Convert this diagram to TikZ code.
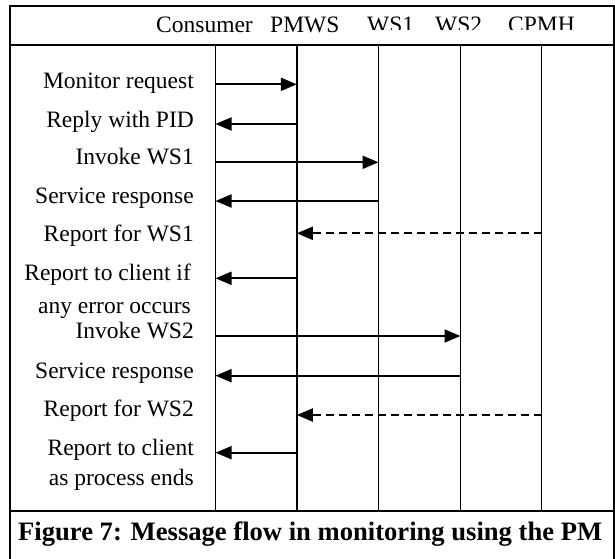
\documentclass[tikz,border=0pt]{standalone}
\usepackage{fontspec}
\setmainfont{Liberation Serif}
\usetikzlibrary{arrows.meta}
\begin{document}
\begin{tikzpicture}[x=1bp,y=-1bp,
  frameline/.style={line width=2bp},
  lane/.style={line width=1.8bp},
  msg/.style={line width=2bp,-{Triangle[length=16bp,width=13bp]}},
  report/.style={msg,dash pattern=on 8bp off 5bp},
  lbl/.style={anchor=base east,inner sep=0pt,font=\fontsize{23.5bp}{28bp}\selectfont},
  hdr/.style={anchor=base west,inner sep=0pt,font=\fontsize{23.5bp}{28bp}\selectfont},
  captxt/.style={anchor=base west,inner sep=0pt,font=\fontsize{26.6bp}{30bp}\selectfont\bfseries}]
\useasboundingbox (0,0) rectangle (615,559);
\fill[white] (0,0) rectangle (615,559);

% outer frame, header rule and caption rule
\draw[frameline] (10,559) -- (10,5.7) -- (613.7,5.7) -- (613.7,559);
\draw[frameline] (10,45) -- (613.7,45);
\draw[frameline] (10,510.5) -- (613.7,510.5);

% participant names
\node[hdr] (h-cons) at (156,33) {Consumer};
\node[hdr] (h-pmws) at (270,33) {PMWS};
\begin{scope}
  \clip (350,0) rectangle (600,29.5);
  \node[hdr] (h-ws1) at (367,33) {WS1};
  \node[hdr] (h-ws2) at (435,33) {WS2};
  \node[hdr] (h-cpmh) at (508,33) {CPMH};
\end{scope}

% lifelines
\foreach \n/\x in {cons/215.5, pmws/296.8, ws1/378.5, ws2/460.5, cpmh/541.5}{
  \coordinate (\n-top) at (\x,45);
  \coordinate (\n-bot) at (\x,510.5);
  \draw[lane] (\n-top) -- (\n-bot);
}

% messages
\draw[msg]    (cons-top |- 0,84.3)  -- (pmws-top |- 0,84.3);
\draw[msg]    (pmws-top |- 0,124)   -- (cons-top |- 0,124);
\draw[msg]    (cons-top |- 0,162.3) -- (ws1-top |- 0,162.3);
\draw[msg]    (ws1-top |- 0,201)    -- (cons-top |- 0,201);
\draw[report] (cpmh-top |- 0,233.3) -- (pmws-top |- 0,233.3);
\draw[msg]    (pmws-top |- 0,278.3) -- (cons-top |- 0,278.3);
\draw[msg]    (cons-top |- 0,336)   -- (ws2-top |- 0,336);
\draw[msg]    (ws2-top |- 0,375.7)  -- (cons-top |- 0,375.7);
\draw[report] (cpmh-top |- 0,415)   -- (pmws-top |- 0,415);
\draw[msg]    (pmws-top |- 0,452.7) -- (cons-top |- 0,452.7);

% message labels
\node[lbl] (l1)  at (194,88.3)  {Monitor request};
\node[lbl] (l2)  at (194,128)   {Reply with PID};
\node[lbl] (l3)  at (194,165)   {Invoke WS1};
\node[lbl] (l4)  at (194,203.3) {Service response};
\node[lbl] (l5)  at (194,241.7) {Report for WS1};
\node[lbl] (l6a) at (191,280)   {Report to client if};
\node[lbl] (l6b) at (191,313.3) {any error occurs};
\node[lbl] (l7)  at (194,338.3) {Invoke WS2};
\node[lbl] (l8)  at (194,378.3) {Service response};
\node[lbl] (l9)  at (194,416.7) {Report for WS2};
\node[lbl] (l10a) at (194,455)  {Report to client};
\node[lbl] (l10b) at (194,485)  {as process ends};

% caption
\node[captxt] (cap) at (18,540) {Figure 7: Message flow in monitoring using the PM};
\end{tikzpicture}
\end{document}
